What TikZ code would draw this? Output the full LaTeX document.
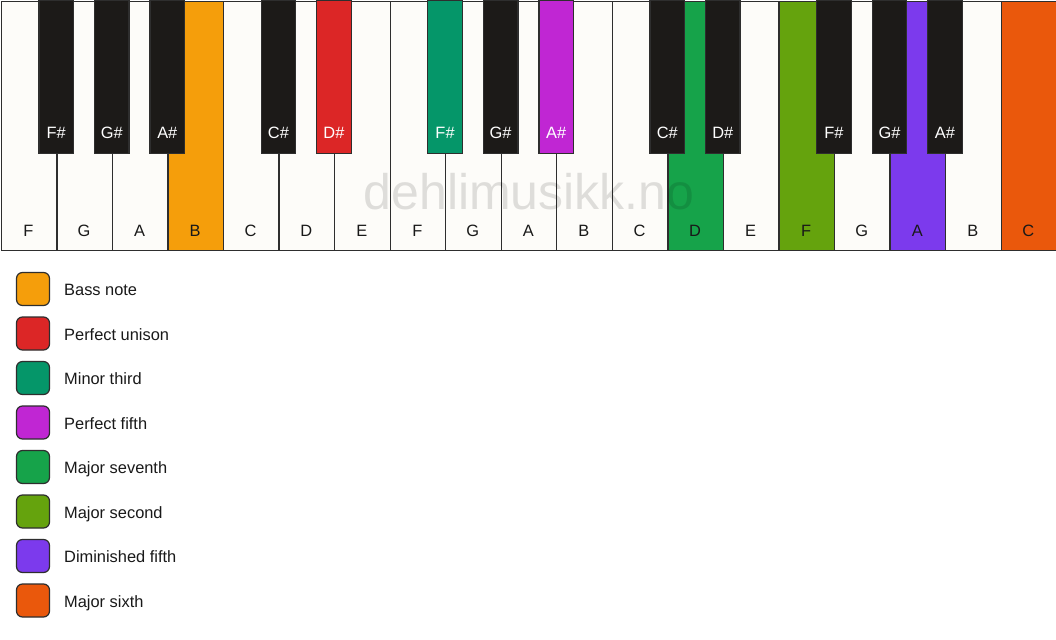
\documentclass[tikz,border=0pt]{standalone}
\usepackage{fontspec}
\setmainfont{Liberation Sans}
\definecolor{ivory}{HTML}{FDFCF9}
\definecolor{keyedge}{HTML}{2E2E2E}
\definecolor{ebony}{HTML}{1C1A18}
\definecolor{cBass}{HTML}{F59E0B}
\definecolor{cUnison}{HTML}{DC2626}
\definecolor{cMinThird}{HTML}{059669}
\definecolor{cFifth}{HTML}{C026D3}
\definecolor{cMajSev}{HTML}{16A34A}
\definecolor{cMajSec}{HTML}{65A30D}
\definecolor{cDim}{HTML}{7C3AED}
\definecolor{cSixth}{HTML}{EA580C}
\begin{document}
\begin{tikzpicture}[x=1pt,y=-1pt,
  keyline/.style={draw=keyedge, line width=1.3pt},
  whitekey/.style={keyline, fill=ivory, minimum width=55.55pt, minimum height=249pt, inner sep=0pt, anchor=north west},
  blackkey/.style={keyline, fill=ebony, minimum width=34.5pt, minimum height=153pt, inner sep=0pt, anchor=north},
  wlabel/.style={anchor=base, font=\fontsize{16.4}{18}\selectfont, text=black!90, inner sep=0pt},
  blabel/.style={anchor=base, font=\fontsize{16.4}{18}\selectfont, text=white, inner sep=0pt},
  legbox/.style={draw=keyedge, line width=1.2pt, rounded corners=6pt, minimum width=33pt, minimum height=33pt, inner sep=0pt},
  legtext/.style={anchor=base west, font=\fontsize{16.4}{18}\selectfont, text=black!90, inner sep=0pt},
  watermark/.style={font=\fontsize{50}{54}\selectfont, text=black, text opacity=0.12, anchor=base, inner sep=0pt}
]
\fill[white] (0,0) rectangle (1056,639);
\useasboundingbox (0,0) rectangle (1056,639);
% white keys
\foreach \i/\n/\c in {0/F/ivory,1/G/ivory,2/A/ivory,3/B/cBass,4/C/ivory,5/D/ivory,6/E/ivory,7/F/ivory,8/G/ivory,9/A/ivory,10/B/ivory,11/C/ivory,12/D/cMajSev,13/E/ivory,14/F/cMajSec,15/G/ivory,16/A/cDim,17/B/ivory,18/C/cSixth}{
  \node[whitekey, fill=\c] (w\i) at ({0.65+\i*55.55},0.65) {};
  \node[wlabel] (wl\i) at ({0.65+(\i+0.5)*55.55},236) {\n};
}
% black keys
\foreach \i/\n/\c in {0/F\#/ebony,1/G\#/ebony,2/A\#/ebony,4/C\#/ebony,5/D\#/cUnison,7/F\#/cMinThird,8/G\#/ebony,9/A\#/cFifth,11/C\#/ebony,12/D\#/ebony,14/F\#/ebony,15/G\#/ebony,16/A\#/ebony}{
  \node[blackkey, fill=\c] (b\i) at ({0.65+(\i+1)*55.55},0) {};
  \node[blabel] (bl\i) at ({0.65+(\i+1)*55.55},139) {\n};
}
% watermark
\node[watermark] (wm) at (529,209) {dehlimusikk.no};
% legend
\foreach \k/\c/\t in {0/cBass/Bass note,1/cUnison/Perfect unison,2/cMinThird/Minor third,3/cFifth/Perfect fifth,4/cMajSev/Major seventh,5/cMajSec/Major second,6/cDim/Diminished fifth,7/cSixth/Major sixth}{
  \node[legbox, fill=\c] (lb\k) at (33,{289+\k*44.5}) {};
  \node[legtext] (lt\k) at (64,{295.5+\k*44.5}) {\t};
}
\end{tikzpicture}
\end{document}
